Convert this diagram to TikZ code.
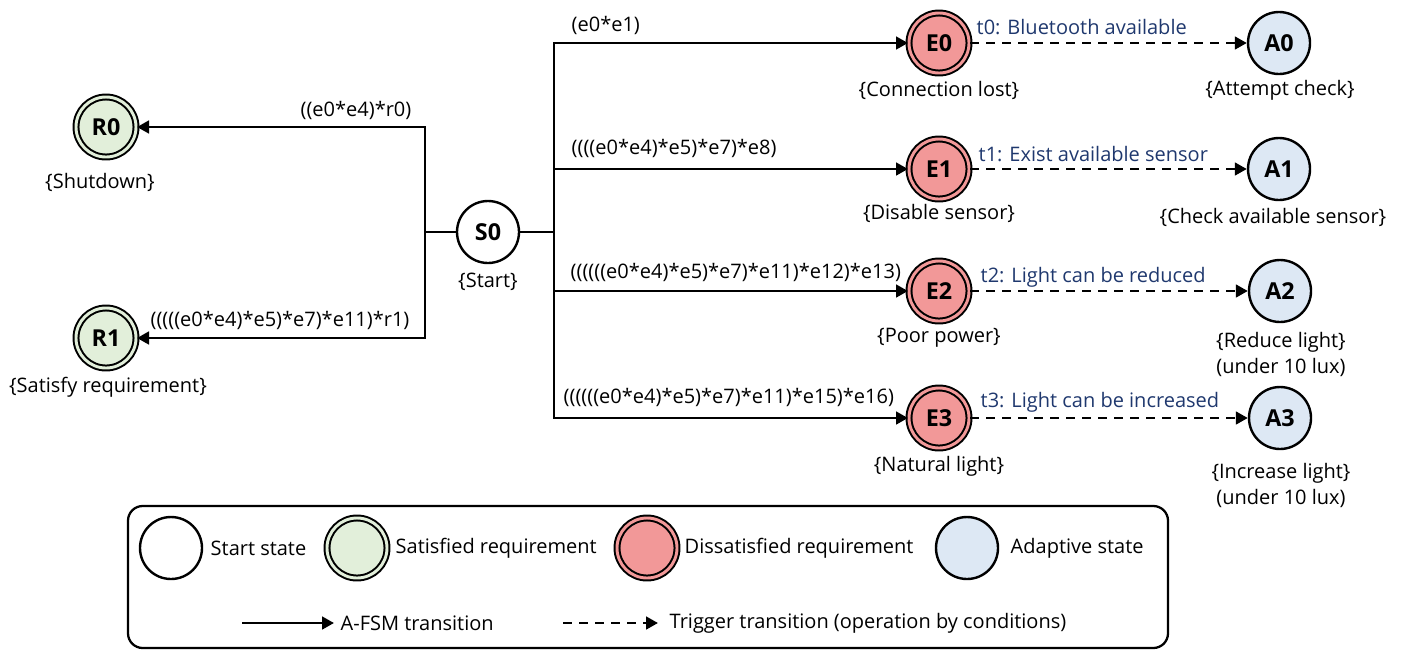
\documentclass[tikz,border=0pt]{standalone}
\usepackage{fontspec}
\setmainfont{Open Sans}
\usetikzlibrary{arrows.meta}
\definecolor{reqgreen}{RGB}{226,239,218}
\definecolor{reqred}{RGB}{242,152,152}
\definecolor{adblue}{RGB}{221,232,244}
\definecolor{trignavy}{RGB}{31,56,110}
\begin{document}
\begin{tikzpicture}[x=0.75pt,y=-0.75pt,
  every node/.style={font=\fontsize{15}{18}\selectfont},
  statebase/.style={circle, draw, inner sep=0pt, font=\fontsize{17.5}{20}\selectfont\bfseries},
  startst/.style={statebase, fill=white, line width=1.8pt, minimum size=46.5pt},
  dblst/.style={statebase, line width=1.5pt, double distance=2.2pt, minimum size=45pt},
  satst/.style={dblst, fill=reqgreen, double=reqgreen},
  failst/.style={dblst, fill=reqred, double=reqred},
  adast/.style={statebase, fill=adblue, line width=1.8pt, minimum size=46.5pt},
  flow/.style={line width=2pt},
  arr/.style={flow, -{Triangle[length=9pt,width=9.5pt]}},
  trig/.style={arr, dash pattern=on 7pt off 5pt},
  cond/.style={text=trignavy},
  caption/.style={align=center, font=\fontsize{15}{19.5}\selectfont},
  legtext/.style={anchor=west}
]
\useasboundingbox (0,0) rectangle (1402,651);

% states
\node[startst] (S0) at (488,232) {S0};
\node[satst] (R0) at (106,127) {R0};
\node[satst] (R1) at (106,338) {R1};
\node[failst] (E0) at (939,43) {E0};
\node[failst] (E1) at (939,169) {E1};
\node[failst] (E2) at (939,291) {E2};
\node[failst] (E3) at (939,418) {E3};
\node[adast] (A0) at (1279,43) {A0};
\node[adast] (A1) at (1279,169) {A1};
\node[adast] (A2) at (1280,291) {A2};
\node[adast] (A3) at (1280,418) {A3};

% state captions
\node[caption] (cS0) at (488,282) {\{Start\}};
\node[caption] (cR0) at (100,182) {\{Shutdown\}};
\node[caption] (cR1) at (108,387) {\{Satisfy requirement\}};
\node[caption] (cE0) at (939,90) {\{Connection lost\}};
\node[caption] (cE1) at (939,213) {\{Disable sensor\}};
\node[caption] (cE2) at (939,338) {\{Poor power\}};
\node[caption] (cE3) at (939,466) {\{Natural light\}};
\node[caption] (cA0) at (1280,90) {\{Attempt check\}};
\node[caption] (cA1) at (1273,217) {\{Check available sensor\}};
\node[caption] (cA2) at (1281,354) {\{Reduce light\}\\(under 10 lux)};
\node[caption] (cA3) at (1281,485) {\{Increase light\}\\(under 10 lux)};

% branching points
\coordinate (lb) at (425,232);
\coordinate (rb) at (554,232);

% A-FSM transitions
\draw[flow] (S0) -- (lb);
\draw[arr] (lb) |- (R0);
\draw[arr] (lb) |- (R1);
\draw[flow] (S0) -- (rb);
\draw[arr] (rb) |- (E0);
\draw[arr] (rb) |- (E1);
\draw[arr] (rb) |- (E2);
\draw[arr] (rb) |- (E3);

\node[anchor=east] (lR0) at (416,110) {((e0*e4)*r0)};
\node[anchor=east] (lR1) at (414,320) {(((((e0*e4)*e5)*e7)*e11)*r1)};
\node[anchor=west] (lE0) at (567,25) {(e0*e1)};
\node[anchor=west] (lE1) at (567,148) {((((e0*e4)*e5)*e7)*e8)};
\node[anchor=west] (lE2) at (566,272) {((((((e0*e4)*e5)*e7)*e11)*e12)*e13)};
\node[anchor=west] (lE3) at (559,397) {((((((e0*e4)*e5)*e7)*e11)*e15)*e16)};

% trigger transitions
\draw[trig] (E0) -- (A0);
\draw[trig] (E1) -- (A1);
\draw[trig] (E2) -- (A2);
\draw[trig] (E3) -- (A3);

\node[cond, anchor=west] (t0) at (972,27) {t0: Bluetooth available};
\node[cond, anchor=west] (t1) at (974,154) {t1: Exist available sensor};
\node[cond, anchor=west] (t2) at (976,277) {t2: Light can be reduced};
\node[cond, anchor=west] (t3) at (976,402) {t3: Light can be increased};

% legend
\node[draw, line width=1.7pt, rounded corners=11pt, minimum width=780pt, minimum height=106.5pt, inner sep=0pt] (legend) at (648,577) {};
\node[startst] (kS) at (171,548) {};
\node[legtext] (kSt) at (206,548) {Start state};
\node[satst] (kR) at (357,548) {};
\node[legtext] (kRt) at (391,548) {Satisfied requirement};
\node[failst] (kE) at (647,548) {};
\node[legtext] (kEt) at (680,548) {Dissatisfied requirement};
\node[adast] (kA) at (967,548) {};
\node[legtext] (kAt) at (1006,548) {Adaptive state};

\coordinate (ka1) at (242,623);
\coordinate (ka2) at (334,623);
\draw[arr] (ka1) -- (ka2);
\node[legtext] (kat) at (336,623) {A-FSM transition};
\coordinate (kd1) at (563,623);
\coordinate (kd2) at (658,623);
\draw[trig] (kd1) -- (kd2);
\node[legtext] (kdt) at (665,623) {Trigger transition (operation by conditions)};
\end{tikzpicture}
\end{document}
